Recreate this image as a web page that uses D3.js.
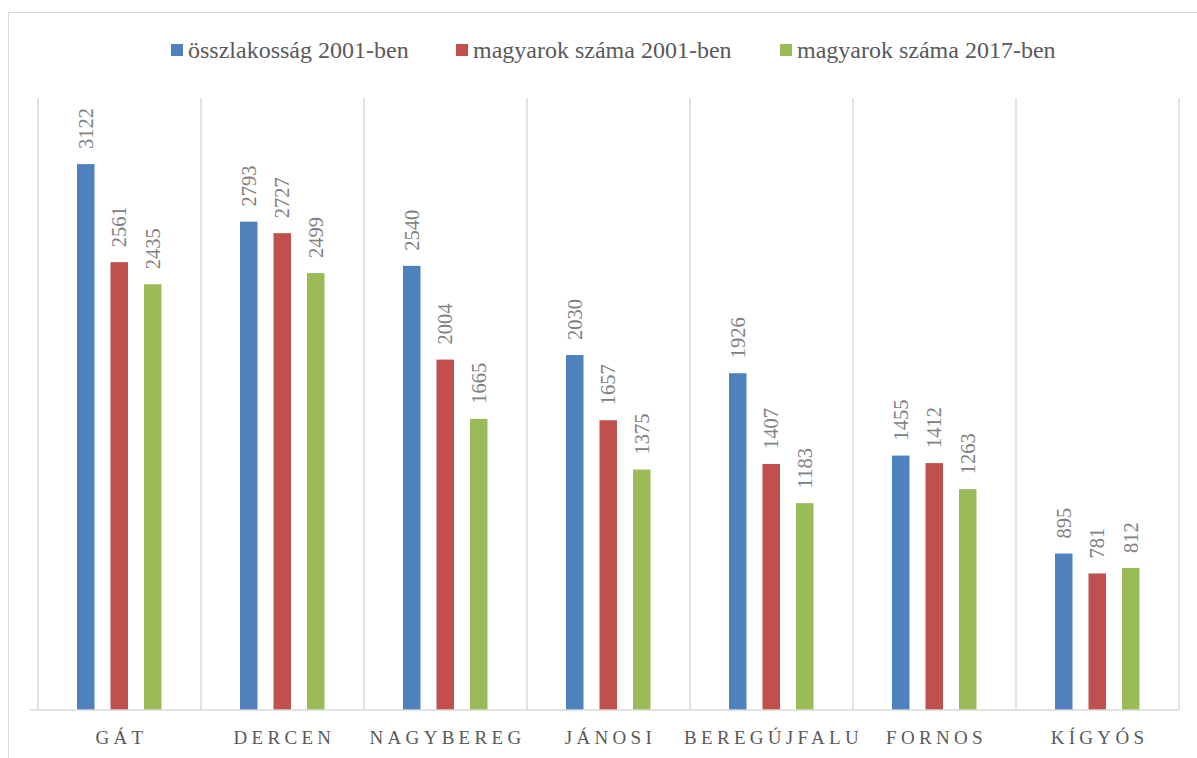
<!DOCTYPE html>
<html lang="hu">
<head>
<meta charset="UTF-8">
<title>Népesség</title>
<script src="https://d3js.org/d3.v7.min.js"></script>
<style>
    body { margin: 0; background: #fff; }
    svg { display: block; }
</style>
</head>
<body>
<svg id="chart" width="1197" height="758"></svg>
<script>
// adatok
const categories = ["GÁT", "DERCEN", "NAGYBEREG", "JÁNOSI", "BEREGÚJFALU", "FORNOS", "KÍGYÓS"];
const seriesNames = ["összlakosság 2001-ben", "magyarok száma 2001-ben", "magyarok száma 2017-ben"];
const total2001 = [3122, 2793, 2540, 2030, 1926, 1455, 895];
const hun2001 = [2561, 2727, 2004, 1657, 1407, 1412, 781];
const hun2017 = [2435, 2499, 1665, 1375, 1183, 1263, 812];
const colors = ["#4F81BD", "#C0504D", "#9BBB59"];

const series = [total2001, hun2001, hun2017];
const serif = '"Liberation Serif", "Times New Roman", serif';

const svg = d3.select("#chart");

// keret
svg.append("rect")
    .attr("x", 8.5).attr("y", 12.5)
    .attr("width", 1200).attr("height", 760)
    .attr("fill", "none").attr("stroke", "#d9d9d9");

const plot = { left: 38, right: 1179, top: 98, bottom: 710 };

const x0 = d3.scaleBand().domain(categories).range([plot.left, plot.right]).padding(0);
// 3 oszlop kategóriánként, 17.5 px széles, 33.5 px lépés
const x1 = d3.scaleBand().domain(d3.range(3)).range([39, 39 + 2 * 33.5 + 17.5])
    .paddingInner(16 / 33.5).paddingOuter(0);
const y = d3.scaleLinear().domain([0, 3500]).range([plot.bottom, plot.top]);

// függőleges rácsvonalak
const gridX = categories.map(c => x0(c)).concat([plot.right]);
svg.append("g").selectAll("line").data(gridX).join("line")
    .attr("x1", d => d).attr("x2", d => d)
    .attr("y1", plot.top).attr("y2", plot.bottom)
    .attr("stroke", "#d9d9d9").attr("stroke-width", 1.5);

// oszlopok
const groups = svg.append("g").selectAll("g").data(categories).join("g")
    .attr("transform", c => `translate(${x0(c)},0)`);

groups.selectAll("rect")
    .data((c, i) => series.map((s, k) => ({ k, v: s[i] })))
    .join("rect")
    .attr("x", d => x1(d.k))
    .attr("width", x1.bandwidth())
    .attr("y", d => y(d.v))
    .attr("height", d => y(0) - y(d.v))
    .attr("fill", d => colors[d.k]);

// címkék (elforgatva)
groups.selectAll("text")
    .data((c, i) => series.map((s, k) => ({ k, v: s[i] })))
    .join("text")
    .attr("transform", d => `translate(${x1(d.k) + x1.bandwidth() / 2 + 7},${y(d.v) - 15}) rotate(-90)`)
    .style("font-family", serif)
    .attr("font-size", 20.5)
    .attr("fill", "#808080")
    .text(d => d.v);

// x tengely
svg.append("line")
    .attr("x1", plot.left - 8).attr("x2", plot.right)
    .attr("y1", plot.bottom).attr("y2", plot.bottom)
    .attr("stroke", "#d9d9d9").attr("stroke-width", 1.5);

svg.append("g").selectAll("text").data(categories).join("text")
    .attr("x", c => x0(c) + x0.bandwidth() / 2 + 2)
    .attr("y", 744)
    .attr("text-anchor", "middle")
    .style("font-family", serif)
    .attr("font-size", 19)
    .attr("letter-spacing", 4.3)
    .attr("fill", "#595959")
    .text(c => c);

// jelmagyarázat
const legendX = [171, 456, 780];
const legend = svg.append("g").selectAll("g").data(seriesNames).join("g")
    .attr("transform", (d, i) => `translate(${legendX[i]},0)`);
legend.append("rect")
    .attr("x", 0).attr("y", 44)
    .attr("width", 12).attr("height", 12)
    .attr("fill", (d, i) => colors[i]);
legend.append("text")
    .attr("x", 17).attr("y", 58)
    .style("font-family", serif)
    .attr("font-size", 24)
    .attr("fill", "#595959")
    .text(d => d);
</script>
</body>
</html>
